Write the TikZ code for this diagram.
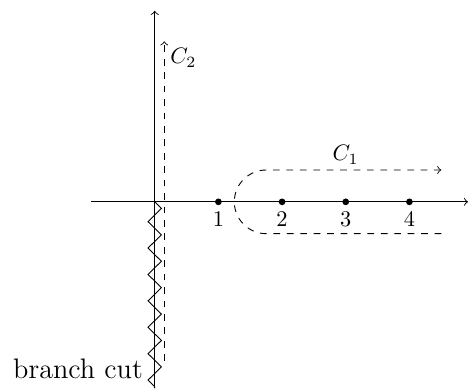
\documentclass[tikz,border=0pt]{standalone}
\usetikzlibrary{decorations.pathmorphing}
\begin{document}
\begin{tikzpicture}[
  >=to,
  dot/.style={circle,fill,inner sep=0pt,minimum size=3pt},
  contour/.style={dashed,->},
  cut/.style={decorate,decoration={zigzag,amplitude=3pt,segment length=11.8pt}}
]
\useasboundingbox (-2.43,-2.93) rectangle (4.92,3.17);
% axes
\coordinate (xl) at (-1,0);
\coordinate (xr) at (4.92,0);
\coordinate (yb) at (0,-2.93);
\coordinate (yt) at (0,3);
\coordinate (o) at (0,0);
\draw[->] (xl) -- (xr);
\draw[->] (yb) -- (yt);
% branch cut
\draw[cut] (o) -- (yb);
\node[anchor=base east,inner sep=0pt,font=\fontsize{12.6pt}{15pt}\selectfont] (bc) at (-0.18,-2.78) {branch cut};
% points
\node[dot,label={[label distance=-1pt]below:1}] (p1) at (1,0) {};
\node[dot,label={[label distance=-1pt]below:2}] (p2) at (2,0) {};
\node[dot,label={[label distance=-1pt]below:3}] (p3) at (3,0) {};
\node[dot,label={[label distance=-1pt]below:4}] (p4) at (4,0) {};
% C1
\coordinate (c1s) at (4.5,-0.5);
\coordinate (c1e) at (4.5,0.5);
\draw[contour] (c1s) -- (1.75,-0.5) arc (270:90:0.5) -- (c1e);
\node (C1) at (3,0.74) {$C_1$};
% C2
\coordinate (c2s) at (0.15,-2.5);
\coordinate (c2e) at (0.15,2.52);
\draw[contour] (c2s) -- (c2e);
\node (C2) at (0.45,2.26) {$C_2$};
\end{tikzpicture}
\end{document}
